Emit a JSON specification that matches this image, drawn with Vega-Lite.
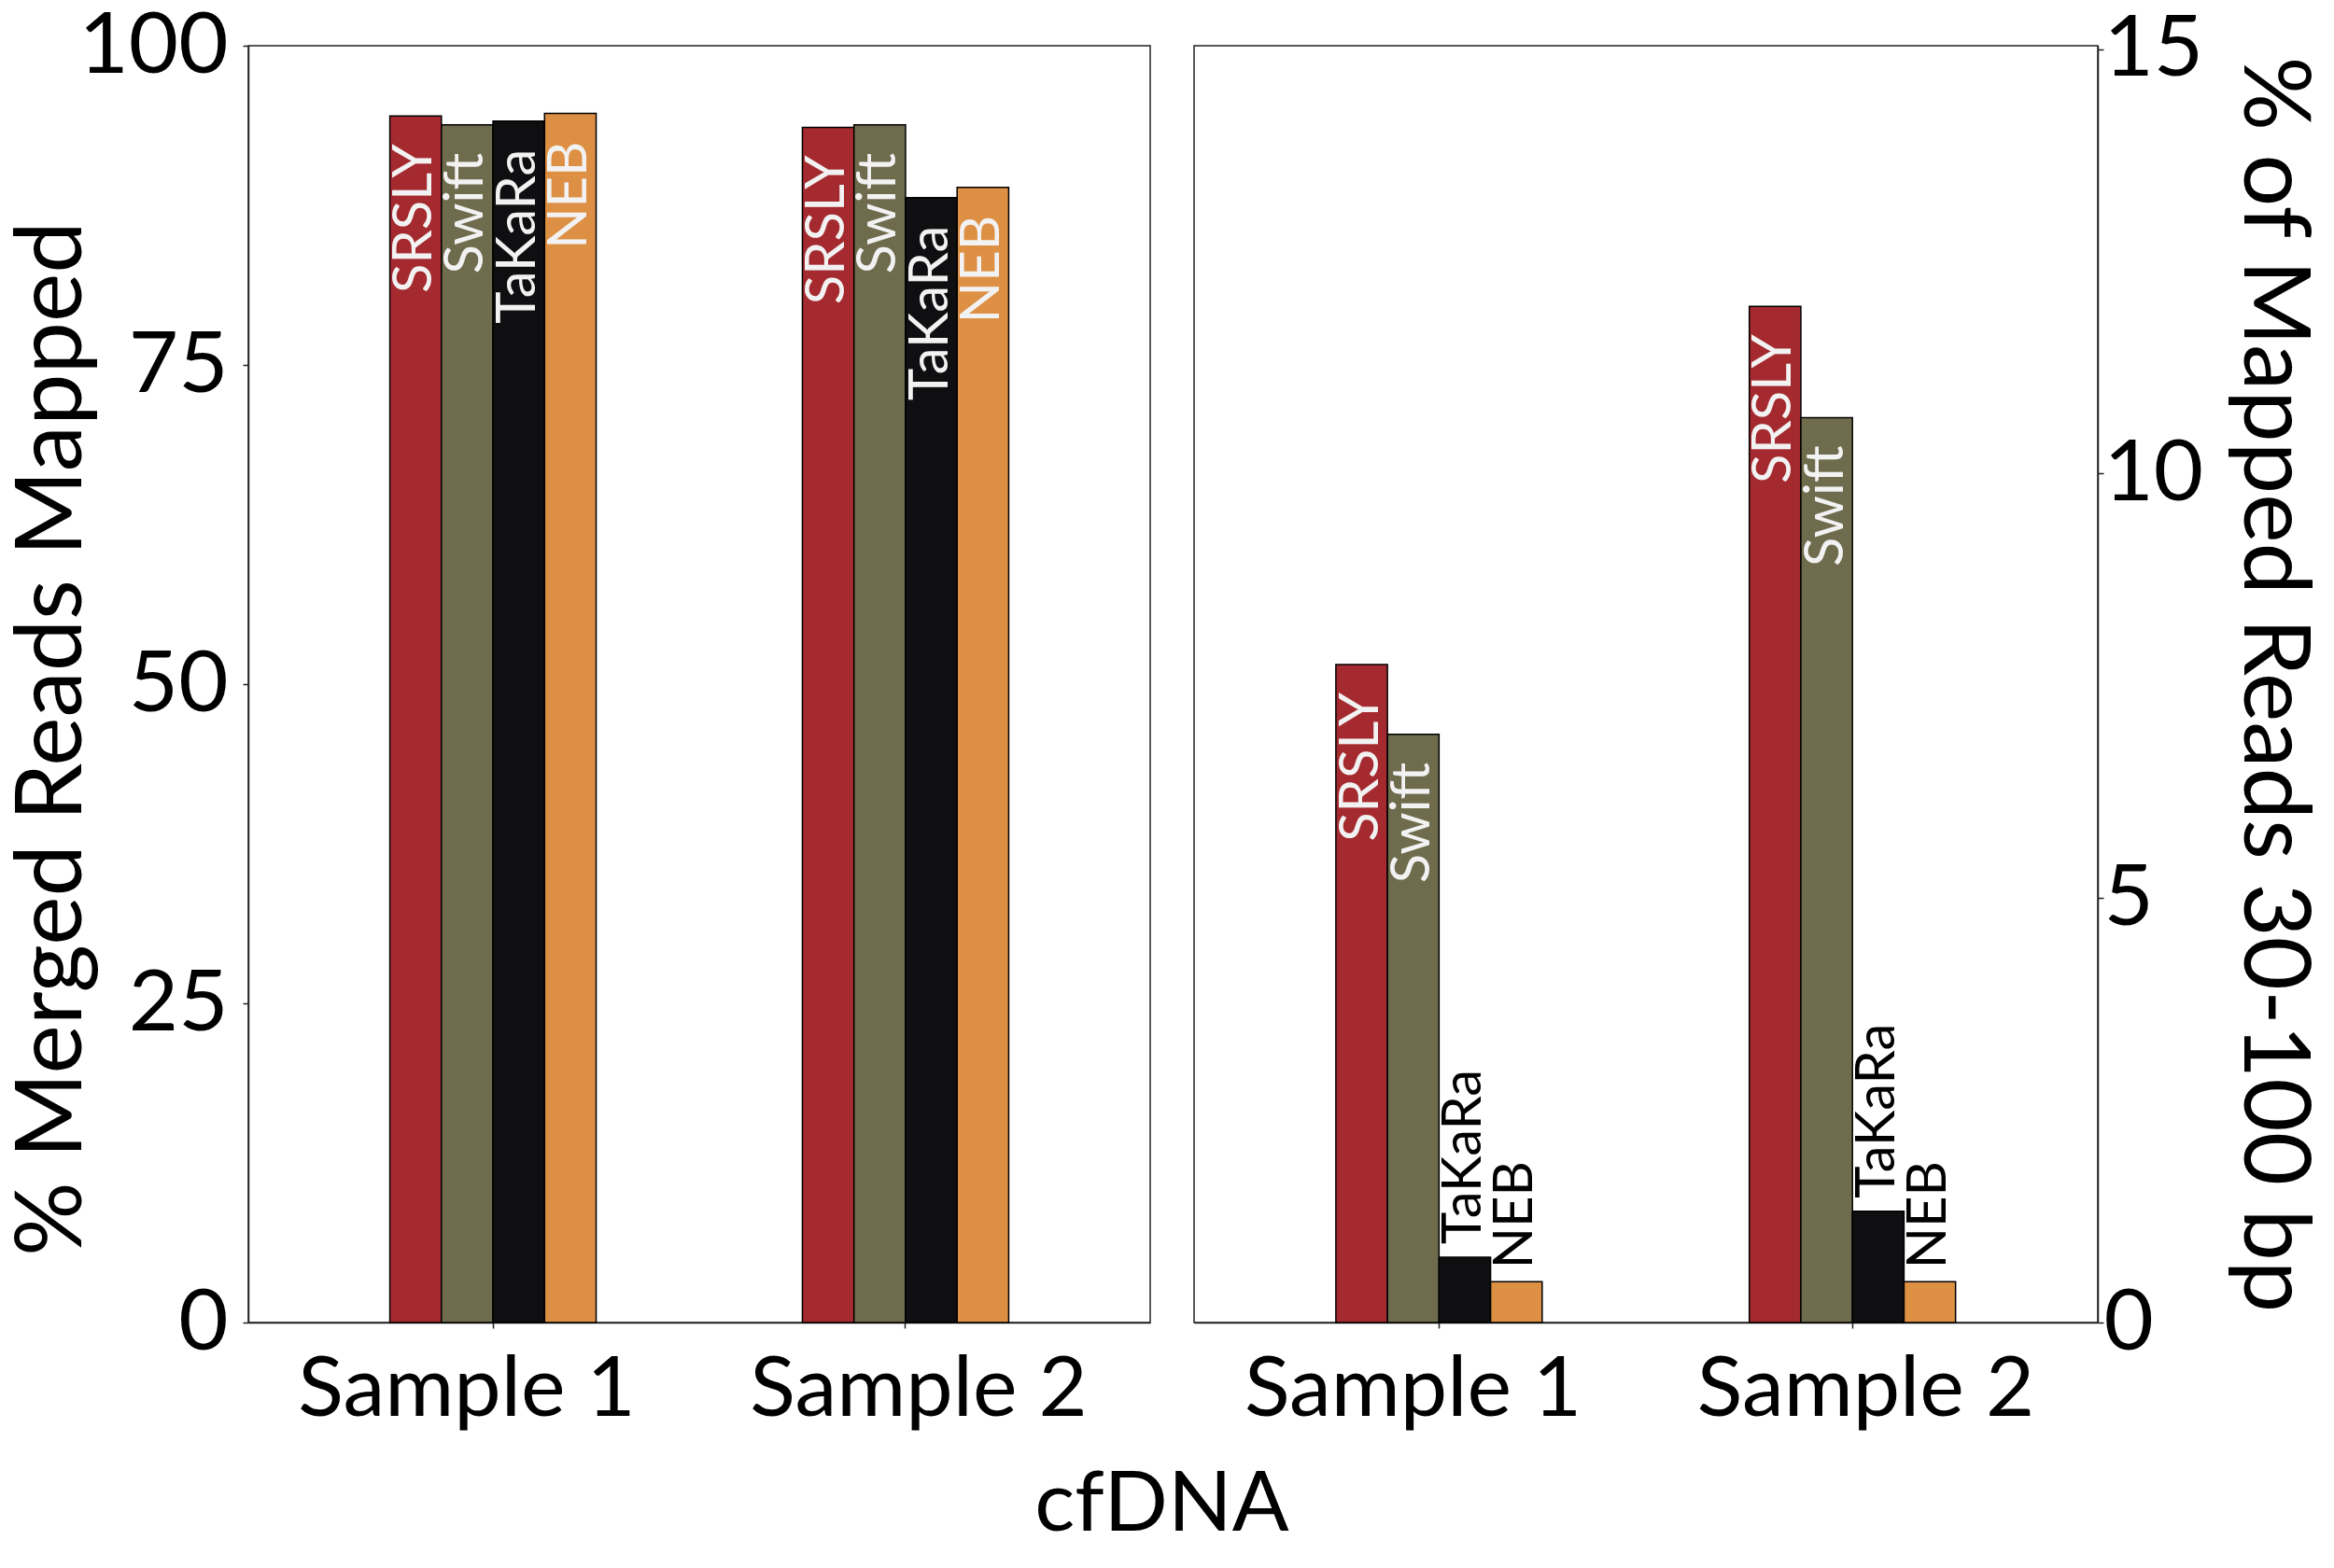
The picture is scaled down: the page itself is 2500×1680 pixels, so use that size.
{
  "$schema": "https://vega.github.io/schema/vega-lite/v6.json",
  "background": "white",
  "padding": {"left": 6, "top": 2, "right": 0, "bottom": 0},
  "datasets": {
    "reads": [
      {"panel": "merged", "sample": "Sample 1", "kit": "SRSLY", "value": 94.5},
      {"panel": "merged", "sample": "Sample 1", "kit": "Swift", "value": 93.8},
      {"panel": "merged", "sample": "Sample 1", "kit": "TaKaRa", "value": 94.1},
      {"panel": "merged", "sample": "Sample 1", "kit": "NEB", "value": 94.7},
      {"panel": "merged", "sample": "Sample 2", "kit": "SRSLY", "value": 93.6},
      {"panel": "merged", "sample": "Sample 2", "kit": "Swift", "value": 93.8},
      {"panel": "merged", "sample": "Sample 2", "kit": "TaKaRa", "value": 88.1},
      {"panel": "merged", "sample": "Sample 2", "kit": "NEB", "value": 88.9},
      {"panel": "short", "sample": "Sample 1", "kit": "SRSLY", "value": 7.75},
      {"panel": "short", "sample": "Sample 1", "kit": "Swift", "value": 6.93},
      {"panel": "short", "sample": "Sample 1", "kit": "TaKaRa", "value": 0.77},
      {"panel": "short", "sample": "Sample 1", "kit": "NEB", "value": 0.48},
      {"panel": "short", "sample": "Sample 2", "kit": "SRSLY", "value": 11.97},
      {"panel": "short", "sample": "Sample 2", "kit": "Swift", "value": 10.66},
      {"panel": "short", "sample": "Sample 2", "kit": "TaKaRa", "value": 1.31},
      {"panel": "short", "sample": "Sample 2", "kit": "NEB", "value": 0.48}
    ]
  },
  "title": {
    "text": "cfDNA",
    "orient": "bottom",
    "anchor": "middle",
    "font": "Lato",
    "fontSize": 90,
    "fontWeight": "normal",
    "color": "black",
    "offset": 34
  },
  "spacing": 45,
  "hconcat": [
    {
      "width": 966,
      "height": 1368,
      "data": {"name": "reads"},
      "transform": [{"filter": "datum.panel == 'merged'"}],
      "encoding": {
        "x": {
          "field": "sample",
          "type": "nominal",
          "scale": {"paddingInner": 0.5, "paddingOuter": 0.343},
          "axis": {
            "title": null,
            "labelAngle": 0,
            "labelOffset": {"condition": {"test": "datum.value == 'Sample 1'", "value": -28}, "value": 14}
          }
        },
        "xOffset": {
          "field": "kit",
          "type": "nominal",
          "sort": ["SRSLY", "Swift", "TaKaRa", "NEB"],
          "scale": {"paddingInner": 0, "paddingOuter": 0}
        },
        "y": {
          "field": "value",
          "type": "quantitative",
          "scale": {"domain": [0, 100], "nice": false},
          "axis": {
            "title": "% Merged Reads Mapped",
            "values": [0, 25, 50, 75, 100],
            "titleX": -180,
            "titleY": 742,
            "titleAngle": 270,
            "titleBaseline": "alphabetic",
            "titleAlign": "center"
          }
        }
      },
      "layer": [
        {
          "mark": {"type": "bar", "stroke": "black", "strokeWidth": 1.5},
          "encoding": {
            "color": {
              "field": "kit",
              "type": "nominal",
              "scale": {
                "domain": ["SRSLY", "Swift", "TaKaRa", "NEB"],
                "range": ["#a52a2f", "#6f6b4d", "#0f0f11", "#dd8f44"]
              },
              "legend": null
            }
          }
        },
        {
          "mark": {
            "type": "text",
            "angle": 270,
            "align": "right",
            "baseline": "middle",
            "dx": -30,
            "color": "#f2f2f2",
            "font": "Lato",
            "fontSize": 58
          },
          "encoding": {"text": {"field": "kit"}}
        }
      ]
    },
    {
      "width": 968,
      "height": 1368,
      "data": {"name": "reads"},
      "transform": [{"filter": "datum.panel == 'short'"}],
      "encoding": {
        "x": {
          "field": "sample",
          "type": "nominal",
          "scale": {"paddingInner": 0.5, "paddingOuter": 0.343},
          "axis": {
            "title": null,
            "labelAngle": 0,
            "labelOffset": {"condition": {"test": "datum.value == 'Sample 1'", "value": -28}, "value": 14}
          }
        },
        "xOffset": {
          "field": "kit",
          "type": "nominal",
          "sort": ["SRSLY", "Swift", "TaKaRa", "NEB"],
          "scale": {"paddingInner": 0, "paddingOuter": 0}
        },
        "y": {
          "field": "value",
          "type": "quantitative",
          "scale": {"domain": [0, 15.04], "nice": false},
          "axis": {
            "orient": "right",
            "title": "% of Mapped Reads 30-100 bp",
            "values": [0, 5, 10, 15],
            "labelAlign": "left",
            "labelPadding": 0,
            "titleX": 156,
            "titleY": 684,
            "titleAngle": 90,
            "titleBaseline": "alphabetic",
            "titleAlign": "center"
          }
        }
      },
      "layer": [
        {
          "mark": {"type": "bar", "stroke": "black", "strokeWidth": 1.5},
          "encoding": {
            "color": {
              "field": "kit",
              "type": "nominal",
              "scale": {
                "domain": ["SRSLY", "Swift", "TaKaRa", "NEB"],
                "range": ["#a52a2f", "#6f6b4d", "#0f0f11", "#dd8f44"]
              },
              "legend": null
            }
          }
        },
        {
          "transform": [{"filter": "datum.value > 3"}],
          "mark": {
            "type": "text",
            "angle": 270,
            "align": "right",
            "baseline": "middle",
            "dx": -30,
            "color": "#f2f2f2",
            "font": "Lato",
            "fontSize": 58
          },
          "encoding": {"text": {"field": "kit"}}
        },
        {
          "transform": [{"filter": "datum.value <= 3"}],
          "mark": {
            "type": "text",
            "angle": 270,
            "align": "left",
            "baseline": "middle",
            "dx": 14,
            "color": "black",
            "font": "Lato",
            "fontSize": 58
          },
          "encoding": {"text": {"field": "kit"}}
        }
      ]
    }
  ],
  "config": {
    "view": {"stroke": "#222222", "strokeWidth": 1.5},
    "axis": {
      "grid": false,
      "domainColor": "#222222",
      "domainWidth": 1.5,
      "tickColor": "#222222",
      "tickWidth": 1.5,
      "tickSize": 6,
      "labelFont": "Lato",
      "labelColor": "black",
      "labelLimit": 0,
      "titleFont": "Lato",
      "titleColor": "black",
      "titleFontWeight": "normal"
    },
    "axisY": {"labelFontSize": 92, "titleFontSize": 99, "labelPadding": 16},
    "axisX": {"labelFontSize": 90, "labelPadding": 22}
  }
}
